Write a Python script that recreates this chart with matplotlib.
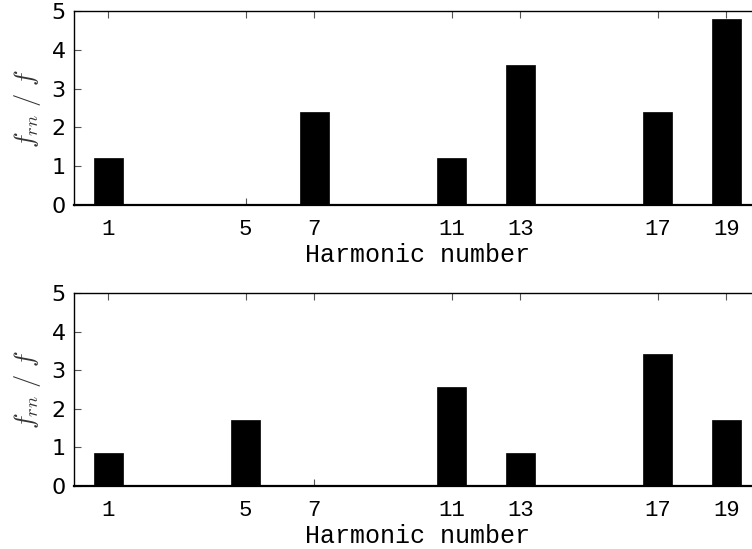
import matplotlib
matplotlib.use("Agg")
import matplotlib.pyplot as plt

plt.rcParams["mathtext.fontset"] = "cm"

harmonics = [1, 5, 7, 11, 13, 17, 19]
tick_labels = ["1", "5", "7", "11", "13", "17", "19"]
top_values = [1.2, 0.0, 2.4, 1.2, 3.6, 2.4, 4.8]
bottom_values = [0.857, 1.714, 0.0, 2.571, 0.857, 3.429, 1.714]
ylabel_text = r"$f_{rn}\ /\ f$"
xlabel_text = "Harmonic number"

mono = ["Liberation Mono", "DejaVu Sans Mono"]

fig = plt.figure(figsize=(7.52, 5.49), dpi=100)
W, H = 752, 549
left_px, right_px = 74, 760.6
positions = [(11, 205), (293, 486)]

for (top_px, bot_px), vals in zip(positions, [top_values, bottom_values]):
    ax = fig.add_axes([left_px / W, 1 - bot_px / H, (right_px - left_px) / W, (bot_px - top_px) / H])
    ax.bar(harmonics, vals, width=0.84, color="black", edgecolor="black", linewidth=0.5, zorder=2)
    ax.set_xlim(0, 20)
    ax.set_ylim(0, 5)
    ax.set_xticks(harmonics)
    ax.set_xticklabels(tick_labels, fontfamily=mono, fontsize=16)
    ax.set_yticks([0, 1, 2, 3, 4, 5])
    ax.set_yticklabels(["0", "1", "2", "3", "4", "5"], fontfamily="DejaVu Sans", fontsize=16)
    ax.tick_params(axis="x", direction="in", top=True, bottom=True, length=5, width=0.8,
                   color="#555555", pad=10)
    ax.tick_params(axis="y", direction="in", left=True, right=False, length=5, width=0.8,
                   color="#555555", pad=6)
    ax.spines["bottom"].set_linewidth(1.6)
    ax.spines["left"].set_linewidth(1.0)
    ax.spines["top"].set_linewidth(1.0)
    ax.spines["right"].set_visible(False)
    ax.set_xlabel(xlabel_text, fontfamily=mono, fontsize=18, labelpad=2)
    ax.set_ylabel(ylabel_text, fontsize=19, labelpad=6, color="#333333")

fig.savefig("out.png", dpi=100)
